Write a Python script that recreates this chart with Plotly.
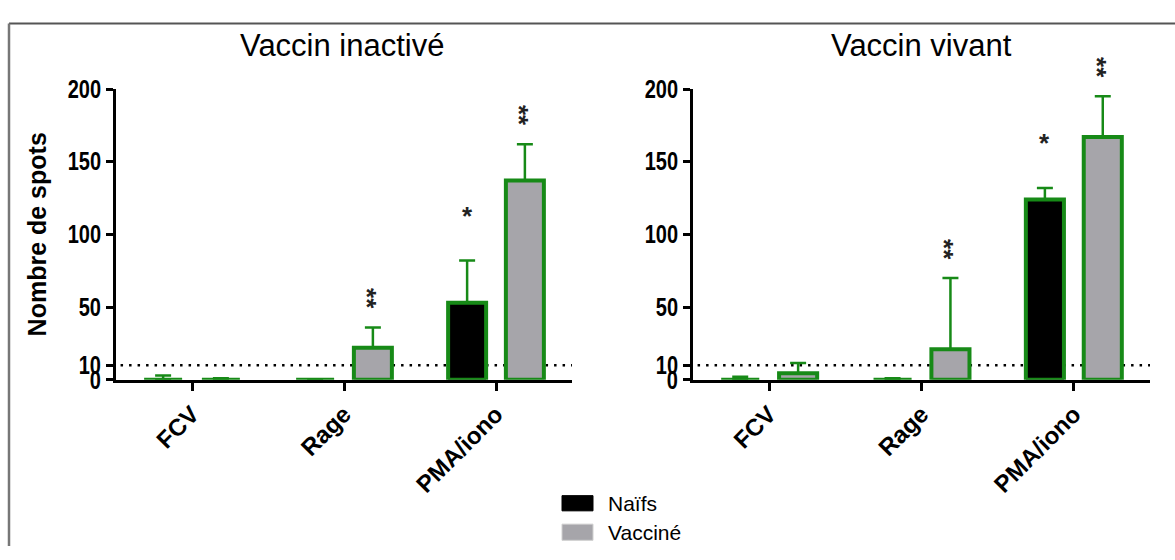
import plotly.graph_objects as go

# ---- data ----
categories = ["FCV", "Rage", "PMA/iono"]

inact_naifs = [0, 0, 53]
inact_naifs_err = [3, None, 29]
inact_vacc = [0, 22, 137]
inact_vacc_err = [1, 14, 25]
inact_naifs_sig = ["", "", "*"]
inact_vacc_sig = ["", "**", "**"]

viv_naifs = [0, 0, 124]
viv_naifs_err = [2, 1, 8]
viv_vacc = [4.5, 21, 167]
viv_vacc_err = [7, 49, 28]
viv_naifs_sig = ["", "", "*"]
viv_vacc_sig = ["", "**", "**"]

y_ticks = [0, 10, 50, 100, 150, 200]
threshold = 10

# ---- style ----
GREEN = "#178a17"
GRAY = "#a6a5aa"
BAR_W = 0.25
SHIFT = 0.19
TICK_FONT = dict(family="Liberation Sans, Arial, sans-serif", size=25, color="black")
CAT_FONT = dict(family="Liberation Sans, Arial, sans-serif", size=24, color="black")
x_pos = list(range(len(categories)))

fig = go.Figure()


def add_panel(naifs, naifs_err, vacc, vacc_err, xa, ya):
    for vals, errs, fill, sign, name in (
        (naifs, naifs_err, "black", -1, "Naïfs"),
        (vacc, vacc_err, GRAY, 1, "Vacciné"),
    ):
        fig.add_trace(go.Bar(
            x=x_pos, y=vals, name=name, width=BAR_W,
            offset=sign * SHIFT - BAR_W / 2,
            marker=dict(color=fill, line=dict(color=GREEN, width=4)),
            error_y=dict(type="data", array=errs, arrayminus=[0] * len(errs),
                         symmetric=False, color=GREEN, thickness=2.5, width=8),
            xaxis=xa, yaxis=ya, showlegend=False,
        ))


add_panel(inact_naifs, inact_naifs_err, inact_vacc, inact_vacc_err, "x", "y")
add_panel(viv_naifs, viv_naifs_err, viv_vacc, viv_vacc_err, "x2", "y2")

# significance stars above the error bars
annotations = []
for xr, yr, groups in (
    ("x", "y", ((inact_naifs, inact_naifs_err, inact_naifs_sig, -1),
                (inact_vacc, inact_vacc_err, inact_vacc_sig, 1))),
    ("x2", "y2", ((viv_naifs, viv_naifs_err, viv_naifs_sig, -1),
                  (viv_vacc, viv_vacc_err, viv_vacc_sig, 1))),
):
    for vals, errs, sigs, sign in groups:
        for i, s in enumerate(sigs):
            if not s:
                continue
            double = len(s) > 1
            annotations.append(dict(
                x=x_pos[i] + sign * SHIFT, y=vals[i] + (errs[i] or 0), xref=xr, yref=yr,
                text="<b>%s</b>" % s, showarrow=False, yanchor="bottom", xanchor="center",
                textangle=90 if double else 0,
                xshift=-6 if double else 0,
                yshift=16 if double else 28,
                font=dict(family="Liberation Sans, Arial, sans-serif", size=26, color="#222"),
            ))

# panel titles
for xc, t in ((342 / 1175, "Vaccin inactivé"), (921 / 1175, "Vaccin vivant")):
    annotations.append(dict(
        x=xc, y=1 - 33 / 560, xref="paper", yref="paper", text=t, showarrow=False,
        xanchor="center", yanchor="middle",
        font=dict(family="Liberation Sans, Arial, sans-serif", size=31, color="black"),
    ))

# y axis title
annotations.append(dict(
    x=37 / 1175, y=1 - 232 / 560, xref="paper", yref="paper", text="<b>Nombre de spots</b>",
    showarrow=False, textangle=-90, xanchor="center", yanchor="middle",
    font=dict(family="Liberation Sans, Arial, sans-serif", size=25, color="black"),
))

# legend
shapes = []
for (ytop, ybot), fill, label in (((507, 523), "black", "Naïfs"), ((537, 554), GRAY, "Vacciné")):
    shapes.append(dict(type="rect", xref="paper", yref="paper",
                       x0=562 / 1175, x1=593 / 1175, y0=1 - ybot / 560, y1=1 - ytop / 560,
                       fillcolor=fill, line=dict(color="#d0d0d0" if fill == GRAY else "black", width=1)))
    annotations.append(dict(
        x=606 / 1175, y=1 - (ytop + ybot) / 2 / 560, xref="paper", yref="paper", text=label,
        showarrow=False, xanchor="left", yanchor="middle",
        font=dict(family="Liberation Sans, Arial, sans-serif", size=21, color="black"),
    ))

# dotted detection threshold
for xr, yr in (("x domain", "y"), ("x2 domain", "y2")):
    shapes.append(dict(type="line", xref=xr, yref=yr, x0=0.01, x1=1, y0=threshold, y1=threshold,
                       line=dict(color="black", width=2.5, dash="2.5px,6px"), layer="below"))

# outer frame (top and left edges)
shapes.append(dict(type="line", xref="paper", yref="paper", x0=9 / 1175, x1=1, y0=1 - 10 / 560, y1=1 - 10 / 560,
                   line=dict(color="#555", width=2)))
shapes.append(dict(type="line", xref="paper", yref="paper", x0=9 / 1175, x1=9 / 1175, y0=0, y1=1 - 10 / 560,
                   line=dict(color="#777", width=2.5)))

y_dom = [1 - 385 / 560, 1 - 79 / 560]
xaxis_common = dict(
    range=[-0.5, 2.5], tickmode="array", tickvals=x_pos,
    ticktext=["<b>%s</b>" % c for c in categories], tickangle=-45,
    showline=True, linecolor="black", linewidth=3, ticks="outside", ticklen=8, tickwidth=3,
    tickcolor="black", showgrid=False, zeroline=False, tickfont=CAT_FONT, fixedrange=True,
)
yaxis_common = dict(
    range=[0, 200], tickmode="array", tickvals=y_ticks,
    ticktext=["<b>%d</b>" % v for v in y_ticks],
    showline=True, linecolor="black", linewidth=3, ticks="outside", ticklen=7, tickwidth=3,
    tickcolor="black", showgrid=False, zeroline=False, tickfont=TICK_FONT, fixedrange=True,
)

fig.update_layout(
    width=1175, height=560,
    margin=dict(l=0, r=0, t=0, b=0),
    paper_bgcolor="white", plot_bgcolor="white",
    barmode="overlay",
    xaxis=dict(domain=[116 / 1175, 572 / 1175], anchor="y", **xaxis_common),
    yaxis=dict(domain=y_dom, anchor="x", **yaxis_common),
    xaxis2=dict(domain=[693 / 1175, 1150 / 1175], anchor="y2", **xaxis_common),
    yaxis2=dict(domain=y_dom, anchor="x2", **yaxis_common),
    annotations=annotations,
    shapes=shapes,
    showlegend=False,
)

# narrow the value-axis numerals: squeeze each label horizontally about its right edge
condense_ticks = """
(function () {
    var gd = document.getElementById('{plot_id}');
    gd.querySelectorAll('.yaxislayer-above text').forEach(function (t) {
        var x = parseFloat(t.getAttribute('x')) || 0;
        var prev = t.getAttribute('transform') || '';
        t.setAttribute('transform', prev + ' translate(' + x + ',0) scale(0.8,1) translate(' + (-x) + ',0)');
    });
})();
"""

fig.write_html("out.html", post_script=condense_ticks)
